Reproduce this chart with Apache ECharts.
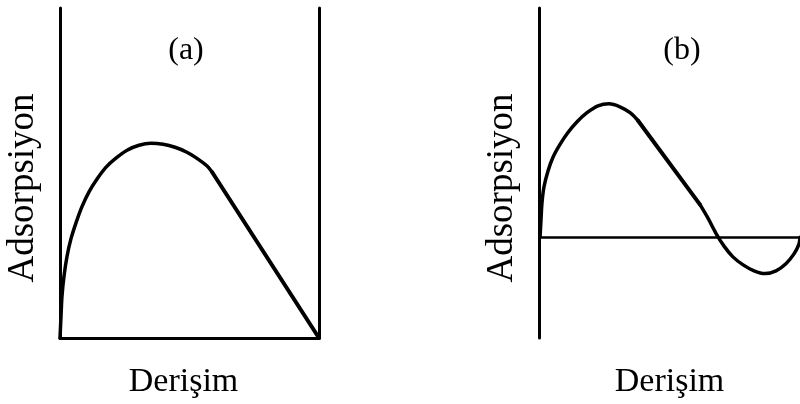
<!DOCTYPE html>
<html>
<head>
<meta charset="utf-8">
<script src="https://cdn.jsdelivr.net/npm/echarts@6/dist/echarts.min.js"></script>
<style>
  html, body { margin: 0; padding: 0; background: #fff; }
  #chart { width: 800px; height: 404px; }
</style>
</head>
<body>
<div id="chart"></div>
<script>
// Panel (a): adsorption rises to a maximum, then falls linearly to zero
const curveA_x = [0, 0.39, 0.77, 1.54, 2.7, 4.25, 6.18, 8.49, 11.2, 14.3, 17.8, 21.6, 25.9, 30.5, 35.1, 39.8, 44.4, 49.0, 53.3, 56.8, 58.7];
const curveA_y = [0, 0.066, 0.127, 0.187, 0.247, 0.301, 0.349, 0.398, 0.443, 0.482, 0.518, 0.545, 0.569, 0.584, 0.59, 0.587, 0.578, 0.563, 0.542, 0.521, 0.503];
const lineA_x = [58.7, 100];
const lineA_y = [0.503, 0];

// Panel (b): adsorption rises, falls linearly, turns negative and returns to zero
const riseB_x = [0.4, 0.77, 1.15, 1.92, 3.45, 5.36, 8.05, 11.1, 14.6, 18.4, 22.6, 26.8, 31.0, 34.9, 37.9];
const riseB_y = [0, 0.078, 0.151, 0.22, 0.289, 0.349, 0.405, 0.457, 0.504, 0.543, 0.573, 0.582, 0.569, 0.543, 0.509];
const lineB_x = [37.9, 61.7];
const lineB_y = [0.509, 0.142];
const tailB_x = [61.7, 64.8, 67.8, 70.9, 74.3, 78.2, 82.4, 86.6, 90.8, 94.6, 97.7, 99.6, 100];
const tailB_y = [0.142, 0.082, 0.017, -0.039, -0.086, -0.121, -0.147, -0.159, -0.147, -0.116, -0.073, -0.03, 0];

const panelTitles = ['(a)', '(b)'];
const xName = 'Derişim';
const yName = 'Adsorpsiyon';

const zip = (xs, ys) => xs.map((x, i) => [x, ys[i]]);

const FONT = '"Liberation Serif", "Times New Roman", serif';
const INK = '#000';

const bareAxis = {
  type: 'value',
  axisTick: { show: false },
  axisLabel: { show: false },
  splitLine: { show: false },
  axisLine: { show: true, lineStyle: { color: INK, width: 3 } }
};

const xAxisName = {
  name: xName,
  nameLocation: 'middle',
  nameGap: 27,
  nameTextStyle: { fontFamily: FONT, fontSize: 34, color: INK }
};
const yAxisName = {
  name: yName,
  nameLocation: 'middle',
  nameRotate: 90,
  nameGap: 18,
  nameTextStyle: { fontFamily: FONT, fontSize: 37, color: INK, padding: [0, 30, 0, 0] }
};

const curveStyle = (w) => ({
  type: 'line',
  showSymbol: false,
  symbol: 'none',
  silent: true,
  lineStyle: { color: INK, width: w, cap: 'round', join: 'round' },
  z: 5
});

const chart = echarts.init(document.getElementById('chart'), null, { renderer: 'canvas' });

chart.setOption({
  animation: false,
  backgroundColor: '#fff',
  title: [
    { text: panelTitles[0], left: 181, top: 30, textAlign: 'center',
      textStyle: { fontFamily: FONT, fontSize: 32, fontWeight: 'normal', color: INK } },
    { text: panelTitles[1], left: 677, top: 30, textAlign: 'center',
      textStyle: { fontFamily: FONT, fontSize: 32, fontWeight: 'normal', color: INK } }
  ],
  grid: [
    { left: 60, top: 8, width: 259, height: 332 },
    { left: 539, top: 8, width: 261, height: 334 }
  ],
  xAxis: [
    Object.assign({}, bareAxis, xAxisName, { gridIndex: 0, min: 0, max: 100,
      nameTextStyle: Object.assign({}, xAxisName.nameTextStyle, { padding: [0, 12, 0, 0] }) }),
    Object.assign({}, bareAxis, xAxisName, { gridIndex: 1, min: 0, max: 100,
      axisLine: { show: false, onZero: false } })
  ],
  yAxis: [
    Object.assign({}, bareAxis, yAxisName, { gridIndex: 0, min: 0, max: 1 }),
    Object.assign({}, bareAxis, { gridIndex: 0, min: 0, max: 1, position: 'right' }),
    Object.assign({}, bareAxis, yAxisName, { gridIndex: 1, min: -0.44, max: 1 })
  ],
  series: [
    Object.assign(curveStyle(3.5), { xAxisIndex: 0, yAxisIndex: 0, smooth: 0.3, data: zip(curveA_x, curveA_y) }),
    Object.assign(curveStyle(4), { xAxisIndex: 0, yAxisIndex: 0, data: zip(lineA_x, lineA_y) }),
    Object.assign(curveStyle(3.5), { xAxisIndex: 1, yAxisIndex: 2, smooth: 0.3, data: zip(riseB_x, riseB_y),
      markLine: {
        silent: true, symbol: 'none', label: { show: false },
        lineStyle: { color: INK, width: 2.5, type: 'solid' },
        data: [{ yAxis: 0 }]
      } }),
    Object.assign(curveStyle(4), { xAxisIndex: 1, yAxisIndex: 2, data: zip(lineB_x, lineB_y) }),
    Object.assign(curveStyle(3.5), { xAxisIndex: 1, yAxisIndex: 2, smooth: 0.3, data: zip(tailB_x, tailB_y) })
  ]
});
</script>
</body>
</html>
